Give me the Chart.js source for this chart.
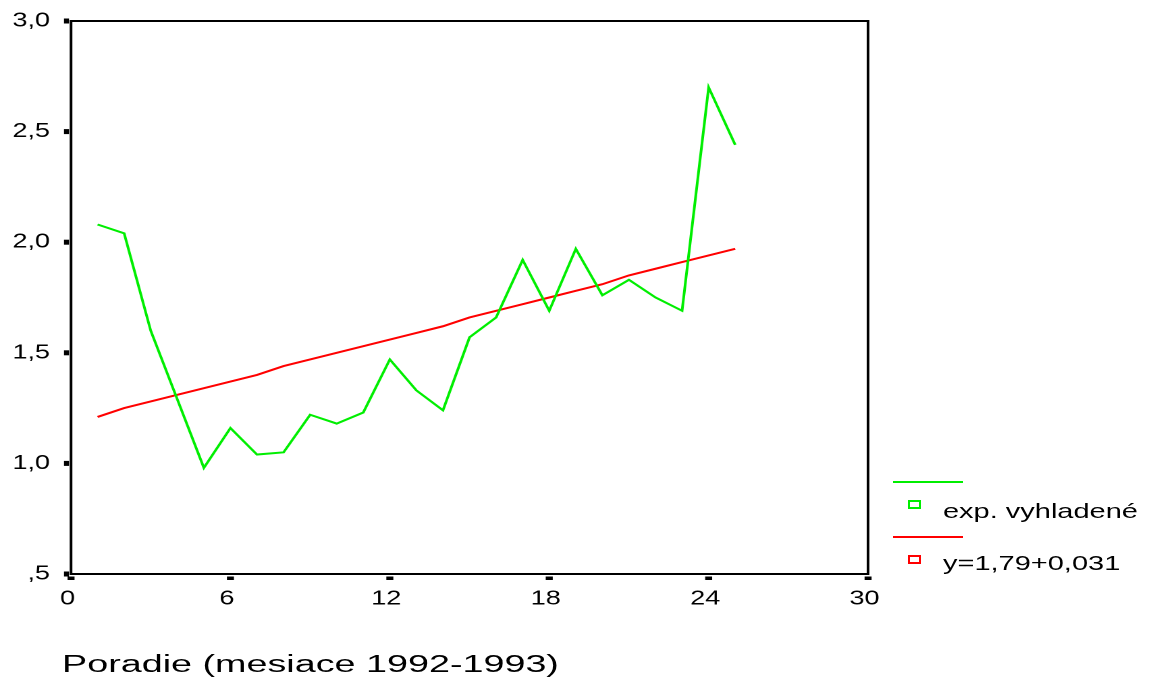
<!DOCTYPE html>
<html>
<head>
<meta charset="utf-8">
<script src="https://cdn.jsdelivr.net/npm/chart.js@4.4.1/dist/chart.umd.min.js"></script>
<style>
  html, body { margin: 0; padding: 0; background: #fff; overflow: hidden; }
  body { width: 1161px; height: 682px; position: relative; font-family: "Liberation Sans", Arial, sans-serif; color: #000; }
  /* the original picture is stretched sideways, so the chart is drawn narrow and widened */
  #wrap { position: absolute; left: 0; top: 0; width: 860px; height: 682px; transform: scaleX(1.35); transform-origin: 0 0; }
  .lg-line { position: absolute; width: 70px; height: 2px; }
  .lg-box { position: absolute; width: 9px; height: 5px; border: 2px solid; }
  .lg-text { position: absolute; left: 943px; font-size: 21px; line-height: 21px; white-space: nowrap; transform: scaleX(1.38); transform-origin: 0 0; }
  #xtitle { position: absolute; left: 62px; top: 653px; font-size: 23px; line-height: 23px; white-space: nowrap; transform: scaleX(1.64); transform-origin: 0 0; }
</style>
</head>
<body>
<div id="wrap"><canvas id="chart" width="860" height="682"></canvas></div>

<div class="lg-line" style="left:893px;top:481px;background:#00ee00"></div>
<div class="lg-box" style="left:908px;top:500px;border-color:#00ee00"></div>
<div class="lg-text" style="top:500px">exp. vyhladené</div>
<div class="lg-line" style="left:893px;top:536px;background:#ff0000"></div>
<div class="lg-box" style="left:908px;top:555px;border-color:#ff0000"></div>
<div class="lg-text" style="top:552px">y=1,79+0,031</div>

<div id="xtitle">Poradie (mesiace 1992-1993)</div>

<script>
// Data
const months = [1, 2, 3, 4, 5, 6, 7, 8, 9, 10, 11, 12, 13, 14, 15, 16, 17, 18, 19, 20, 21, 22, 23, 24, 25];
const smoothed = [2.08, 2.04, 1.60, 1.29, 0.98, 1.16, 1.04, 1.05, 1.22, 1.18, 1.23, 1.47, 1.33, 1.24, 1.57, 1.66, 1.92, 1.69, 1.97, 1.76, 1.83, 1.75, 1.69, 2.70, 2.44];
const trend = [1.21, 1.25, 1.28, 1.31, 1.34, 1.37, 1.40, 1.44, 1.47, 1.50, 1.53, 1.56, 1.59, 1.62, 1.66, 1.69, 1.72, 1.75, 1.78, 1.81, 1.85, 1.88, 1.91, 1.94, 1.97];
const xTicks = [0, 6, 12, 18, 24, 30];
const yTicks = [0.5, 1.0, 1.5, 2.0, 2.5, 3.0];

const toPoints = (vals) => months.map((m, i) => ({ x: m, y: vals[i] }));

// Box round the plot and the small square tick marks
const framePlugin = {
    id: "frame",
    beforeDatasetsDraw(chart) {
        const { ctx, chartArea: a, scales } = chart;
        ctx.save();
        ctx.strokeStyle = "#000";
        ctx.lineWidth = 2;
        ctx.strokeRect(a.left, a.top, a.right - a.left, a.bottom - a.top);
        ctx.fillStyle = "#000";
        scales.y.ticks.forEach(t => {
            const py = scales.y.getPixelForValue(t.value);
            ctx.fillRect(a.left - 5.2, py - 2.5, 3.7, 5);
        });
        scales.x.ticks.forEach(t => {
            const px = scales.x.getPixelForValue(t.value);
            ctx.fillRect(px - 2.6, a.bottom + 2.5, 5.2, 3.5);
        });
        ctx.restore();
    }
};

const tickFont = { family: "'Liberation Sans', Arial, sans-serif", size: 20 };

new Chart(document.getElementById("chart"), {
    type: "scatter",
    data: {
        datasets: [
            {
                label: "exp. vyhladené",
                data: toPoints(smoothed),
                showLine: true,
                borderColor: "#00ee00",
                borderWidth: 2,
                pointRadius: 0,
                tension: 0
            },
            {
                label: "y=1,79+0,031",
                data: toPoints(trend),
                showLine: true,
                borderColor: "#ff0000",
                borderWidth: 2,
                pointRadius: 0,
                tension: 0
            }
        ]
    },
    options: {
        responsive: false,
        devicePixelRatio: 2,
        animation: false,
        layout: { padding: { left: 0, right: 217, top: 21, bottom: 0 } },
        plugins: { legend: { display: false }, tooltip: { enabled: false } },
        scales: {
            x: {
                type: "linear",
                min: 0,
                max: 30,
                afterFit: (s) => { s.height = 108; s.paddingLeft = 0; s.paddingRight = 0; },
                afterBuildTicks: (s) => { s.ticks = xTicks.map(v => ({ value: v })); },
                grid: { display: false, drawTicks: false },
                border: { display: false },
                ticks: {
                    font: tickFont,
                    color: "#000",
                    padding: 13,
                    labelOffset: -2.6,
                    maxRotation: 0,
                    callback: (v) => String(v)
                }
            },
            y: {
                type: "linear",
                min: 0.5,
                max: 3.0,
                afterFit: (s) => { s.width = 52.6; s.paddingTop = 0; s.paddingBottom = 0; },
                afterBuildTicks: (s) => { s.ticks = yTicks.map(v => ({ value: v })); },
                grid: { display: false, drawTicks: false },
                border: { display: false },
                ticks: {
                    font: tickFont,
                    color: "#000",
                    padding: 15.6,
                    callback: (v) => Number(v).toFixed(1).replace(".", ",").replace(/^0/, "")
                }
            }
        }
    },
    plugins: [framePlugin]
});
</script>
</body>
</html>
